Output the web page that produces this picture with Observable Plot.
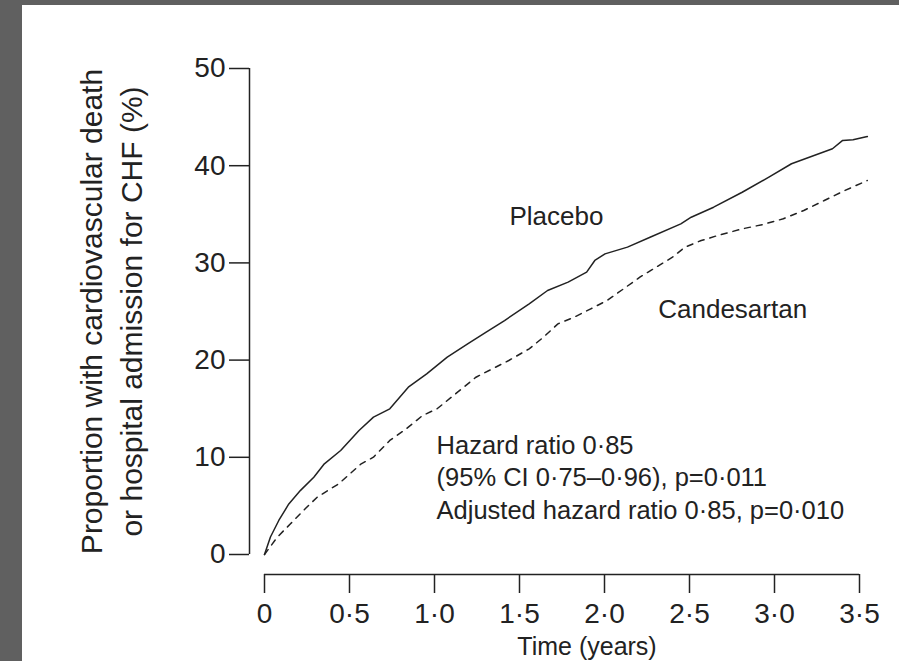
<!DOCTYPE html>
<html><head><meta charset="utf-8">
<script src="https://cdn.jsdelivr.net/npm/d3@7"></script>
<script src="https://cdn.jsdelivr.net/npm/@observablehq/plot@0.6"></script>
<style>
html,body{margin:0;padding:0;background:#606060;width:899px;height:661px;overflow:hidden;}
#chart{position:absolute;left:22px;top:5px;width:877px;height:656px;background:#fff;}
</style></head><body><div id="chart"></div>
<script>
// Time (years) and cumulative proportion (%) for each arm
const placeboT = [0, 0.035, 0.084, 0.143, 0.212, 0.29, 0.352, 0.448, 0.556, 0.641, 0.737, 0.846, 0.954, 1.075, 1.195, 1.304, 1.412, 1.557, 1.665, 1.786, 1.895, 1.943, 2.003, 2.135, 2.268, 2.449, 2.51, 2.642, 2.81, 2.967, 3.1, 3.341, 3.401, 3.462, 3.546];
const placeboP = [0, 1.8, 3.5, 5.2, 6.6, 7.95, 9.33, 10.7, 12.76, 14.13, 14.99, 17.21, 18.59, 20.3, 21.67, 22.87, 24.07, 25.79, 27.16, 28.02, 29.05, 30.25, 30.93, 31.62, 32.64, 34.02, 34.7, 35.73, 37.27, 38.82, 40.2, 41.74, 42.6, 42.66, 43.0];
const candT = [0, 0.075, 0.153, 0.241, 0.31, 0.436, 0.569, 0.641, 0.737, 0.834, 0.93, 1.015, 1.099, 1.244, 1.437, 1.557, 1.641, 1.726, 1.822, 1.919, 2.015, 2.112, 2.208, 2.304, 2.4, 2.473, 2.569, 2.666, 2.81, 2.931, 3.052, 3.172, 3.293, 3.414, 3.546];
const candP = [0, 1.78, 3.16, 4.73, 5.9, 7.27, 9.33, 10.01, 11.73, 12.93, 14.3, 14.99, 16.18, 18.24, 19.96, 21.16, 22.36, 23.73, 24.42, 25.27, 26.13, 27.33, 28.53, 29.56, 30.59, 31.62, 32.3, 32.82, 33.5, 33.95, 34.54, 35.39, 36.42, 37.45, 38.48];

const xTicks = [0, 0.5, 1, 1.5, 2, 2.5, 3, 3.5];
const xTickLabels = ["0", "0·5", "1·0", "1·5", "2·0", "2·5", "3·0", "3·5"];
const yTicks = [0, 10, 20, 30, 40, 50];
const yTickLabels = ["0", "10", "20", "30", "40", "50"];

const seriesLabels = ["Placebo", "Candesartan"];
const seriesLabelT = [1.441, 2.316];
const seriesLabelP = [34.8, 25.2];

const statsLines = ["Hazard ratio 0·85", "(95% CI 0·75–0·96), p=0·011", "Adjusted hazard ratio 0·85, p=0·010"];
const statsT = 1.012, statsP = 12.76;

const yLabelLines = ["Proportion with cardiovascular death", "or hospital admission for CHF (%)"];
const xLabel = "Time (years)";

const placebo = placeboT.map((t, i) => ({t, p: placeboP[i]}));
const cand = candT.map((t, i) => ({t, p: candP[i]}));
const seriesText = seriesLabels.map((label, i) => ({label, t: seriesLabelT[i], p: seriesLabelP[i]}));
const xFmt = new Map(xTicks.map((d, i) => [d, xTickLabels[i]]));
const yFmt = new Map(yTicks.map((d, i) => [d, yTickLabels[i]]));

const ink = "#222";
const chart = Plot.plot({
  width: 877, height: 656,
  marginLeft: 242, marginRight: 40, marginTop: 63, marginBottom: 107,
  style: {fontFamily: "'Liberation Sans', Arial, sans-serif", background: "white", color: ink},
  x: {domain: [0, 3.5], axis: null},
  y: {domain: [0, 50], axis: null},
  marks: [
    Plot.ruleX([0], {y1: 0, y2: 50, dx: -15, stroke: ink, strokeWidth: 1.5}),
    Plot.axisY({ticks: yTicks, tickFormat: d => yFmt.get(d), label: null, tickSize: 20, tickPadding: 4, dx: -15, fontSize: 28, color: ink, strokeWidth: 1.5}),
    Plot.ruleY([0], {x1: 0, x2: 3.5, dy: 20, stroke: ink, strokeWidth: 1.5}),
    Plot.axisX({ticks: xTicks, tickFormat: d => xFmt.get(d), label: null, tickSize: 19, tickPadding: 10, dy: 20, fontSize: 28, color: ink, strokeWidth: 1.5}),
    Plot.line(placebo, {x: "t", y: "p", stroke: ink, strokeWidth: 1.5}),
    Plot.line(cand, {x: "t", y: "p", stroke: ink, strokeWidth: 1.5, strokeDasharray: "6,6"}),
    Plot.text(seriesText, {x: "t", y: "p", text: "label", textAnchor: "start", lineAnchor: "middle", fontSize: 26, fill: ink}),
    Plot.text([statsLines.join("\n")], {x: () => statsT, y: () => statsP, textAnchor: "start", lineAnchor: "top", lineHeight: 1.28, fontSize: 25.5, fill: ink}),
    Plot.text([yLabelLines.join("\n")], {frameAnchor: "left", rotate: -90, dx: -155, textAnchor: "middle", lineAnchor: "middle", lineHeight: 1.33, fontSize: 30, fill: ink}),
    Plot.text([xLabel], {frameAnchor: "bottom", dx: 25, dy: 83, lineAnchor: "top", fontSize: 25, fill: ink})
  ]
});
document.getElementById("chart").appendChild(chart);
</script></body></html>
